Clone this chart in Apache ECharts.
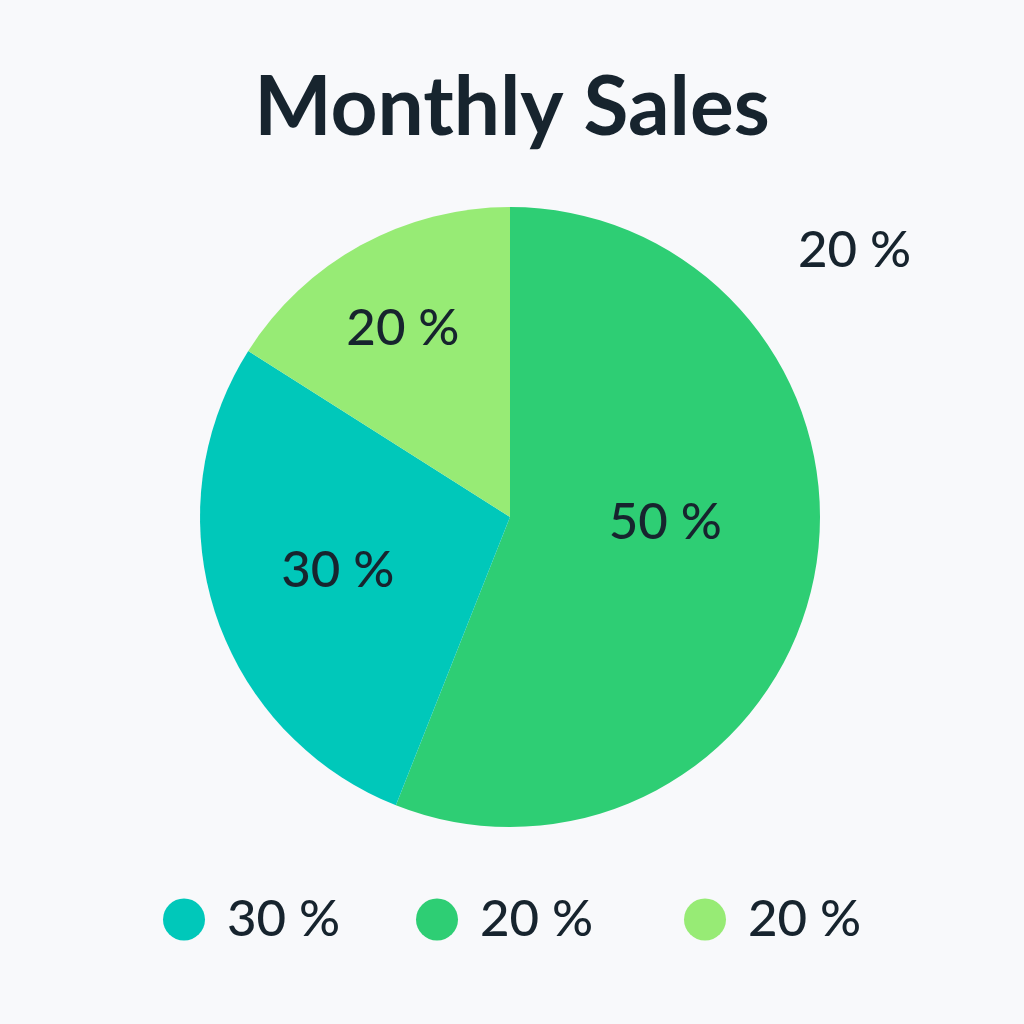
<!DOCTYPE html>
<html>
<head>
<meta charset="utf-8">
<script src="https://cdn.jsdelivr.net/npm/echarts@6/dist/echarts.min.js"></script>
<style>
html,body{margin:0;padding:0;background:#F8F9FB;}
#main{width:1024px;height:1024px;}
</style>
</head>
<body>
<div id="main"></div>
<script>
// ---- data ----
const titleText = 'Monthly Sales';
const sliceNames = ['Green', 'Teal', 'Light green'];
const sliceValues = [56, 28, 16];
const sliceLabels = ['50 %', '30 %', '20 %'];
const legendOrder = ['Teal', 'Green', 'Light green'];
const legendLabels = ['30 %', '20 %', '20 %'];
const strayLabel = '20 %';

// ---- style ----
const colors = {'Green': '#2ECE74', 'Teal': '#00C8BA', 'Light green': '#97EB75'};
const labelOffsets = [[0, -24], [-22, 5], [-31, -50]];
const legendLefts = [158, 411, 679];
const textColor = '#17242E';
const font = 'Lato, "Open Sans", sans-serif';

const chart = echarts.init(document.getElementById('main'));

const legends = legendOrder.map((name, i) => ({
  data: [name],
  left: legendLefts[i],
  top: 889,
  icon: 'circle',
  itemWidth: 42,
  itemHeight: 42,
  itemGap: 0,
  selectedMode: false,
  formatter: () => legendLabels[i],
  textStyle: {fontSize: 51, fontWeight: 500, color: textColor, fontFamily: font, padding: [0, 0, 0, 17]}
}));

chart.setOption({
  backgroundColor: '#F8F9FB',
  animation: false,
  title: {
    text: titleText,
    left: 'center',
    top: 63,
    textStyle: {fontSize: 82, fontWeight: 'bold', color: textColor, fontFamily: font}
  },
  legend: legends,
  graphic: [{
    type: 'text',
    left: 798,
    top: 225,
    style: {text: strayLabel, fontSize: 51, fontWeight: 500, fill: textColor, fontFamily: font}
  }],
  series: [{
    type: 'pie',
    center: [510, 517],
    radius: 310,
    startAngle: 90,
    clockwise: true,
    avoidLabelOverlap: false,
    label: {
      show: true,
      position: 'inside',
      fontSize: 51,
      fontWeight: 500,
      color: textColor,
      fontFamily: font,
      formatter: p => sliceLabels[p.dataIndex]
    },
    labelLine: {show: false},
    itemStyle: {borderWidth: 0},
    emphasis: {disabled: true},
    data: sliceNames.map((n, i) => ({
      name: n,
      value: sliceValues[i],
      itemStyle: {color: colors[n]},
      label: {offset: labelOffsets[i]}
    }))
  }]
});
</script>
</body>
</html>
